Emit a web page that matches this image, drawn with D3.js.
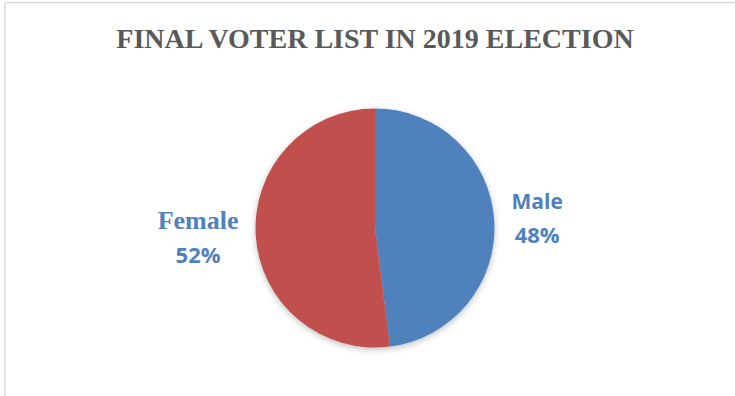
<!DOCTYPE html>
<html>
<head>
<meta charset="utf-8">
<script src="https://cdn.jsdelivr.net/npm/d3@7"></script>
<style>
  body { margin: 0; background: #fff; }
</style>
</head>
<body>
<div id="chart"></div>
<script>
// data
const labels = ["Male", "Female"];
const shares = [48, 52];
const colors = ["#4f81bd", "#c0504d"];
const title = "FINAL VOTER LIST IN 2019 ELECTION";

const W = 735, H = 396;
const svg = d3.select("#chart").append("svg")
    .attr("width", W)
    .attr("height", H);

// chart frame (only top and left edges show in the crop)
svg.append("line")
    .attr("x1", 5).attr("y1", 2.5).attr("x2", W).attr("y2", 2.5)
    .attr("stroke", "#d9d9d9").attr("stroke-width", 1.5);
svg.append("line")
    .attr("x1", 5).attr("y1", 2).attr("x2", 5).attr("y2", H)
    .attr("stroke", "#d9d9d9").attr("stroke-width", 1.5);

svg.append("text")
    .attr("x", 375)
    .attr("y", 48)
    .attr("text-anchor", "middle")
    .style("font-family", "'Liberation Serif', 'Times New Roman', serif")
    .style("font-weight", "bold")
    .style("font-size", "28px")
    .style("fill", "#595959")
    .text(title);

// soft shadow like the office chart
const defs = svg.append("defs");
const f = defs.append("filter").attr("id", "shadow")
    .attr("x", "-20%").attr("y", "-20%").attr("width", "140%").attr("height", "140%");
f.append("feDropShadow")
    .attr("dx", 0).attr("dy", 2).attr("stdDeviation", 3)
    .attr("flood-color", "#000").attr("flood-opacity", 0.25);

const cx = 375, cy = 228, r = 119.5;

const pie = d3.pie().sort(null).value(d => d);
const arc = d3.arc().innerRadius(0).outerRadius(r);

const g = svg.append("g")
    .attr("transform", `translate(${cx},${cy})`);

g.append("g").attr("filter", "url(#shadow)")
    .selectAll("path")
    .data(pie(shares))
    .enter()
    .append("path")
    .attr("d", arc)
    .attr("fill", (d, i) => colors[i]);

// labels outside the pie: inner edge of the label block sits at a fixed gap
const labelArc = d3.arc().innerRadius(r * 1.37).outerRadius(r * 1.37);
const labelFonts = ["'Open Sans', 'Liberation Sans', sans-serif", "'Liberation Serif', serif"];
const labelSizes = ["21px", "26px"];
const gap = r + 17;
const arcs = pie(shares);
arcs.forEach((d, i) => {
    const c = labelArc.centroid(d);
    const side = c[0] >= 0 ? 1 : -1;
    const t = g.append("text")
        .attr("text-anchor", "middle")
        .style("font-weight", "bold")
        .style("fill", "#4f81bd");
    const a = t.append("tspan")
        .attr("y", c[1] - 9)
        .style("font-family", labelFonts[i])
        .style("font-size", labelSizes[i])
        .text(labels[i]);
    const b = t.append("tspan")
        .attr("y", c[1] + 25)
        .style("font-family", "'Open Sans', 'Liberation Sans', sans-serif")
        .style("font-size", "22px")
        .text(shares[i] + "%");
    const bw = Math.max(a.node().getComputedTextLength(), b.node().getComputedTextLength());
    const x = side * (gap + bw / 2);
    a.attr("x", x);
    b.attr("x", x);
});
</script>
</body>
</html>
